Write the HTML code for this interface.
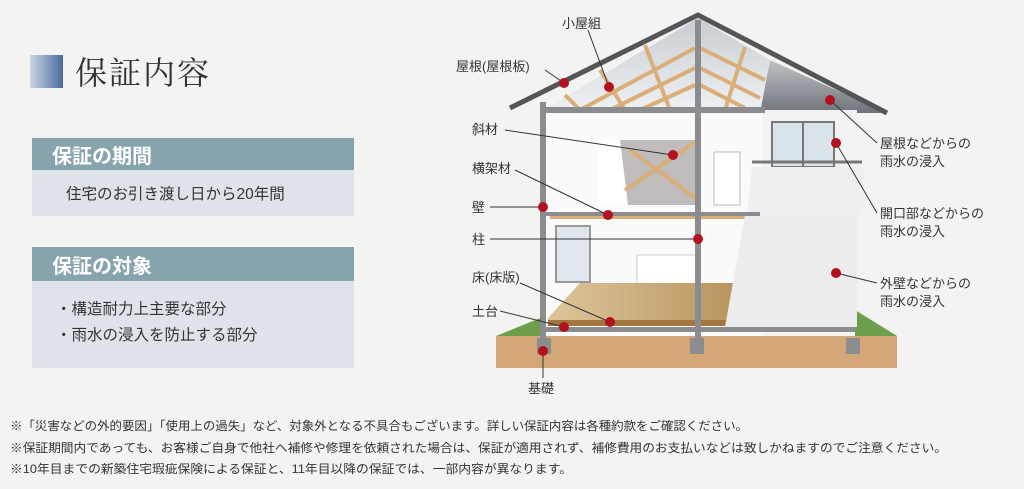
<!DOCTYPE html>
<html><head><meta charset="utf-8"><style>
html,body{margin:0;padding:0;background:#f3f3f2;}
svg{display:block;font-family:"Liberation Sans","Noto Sans CJK JP",sans-serif;}
</style></head><body>
<svg width="1024" height="489" viewBox="0 0 1024 489" xmlns="http://www.w3.org/2000/svg">
<defs>
<linearGradient id="sq" x1="0" x2="1"><stop offset="0" stop-color="#c9d6e6"/><stop offset="1" stop-color="#4d6a9c"/></linearGradient>
<linearGradient id="roofin" x1="0" x2="0" y1="0" y2="1"><stop offset="0" stop-color="#c8ccd2"/><stop offset="1" stop-color="#eef0f2"/></linearGradient>
<linearGradient id="roofr" x1="0" x2="0" y1="0" y2="1"><stop offset="0" stop-color="#bfc3c8"/><stop offset="1" stop-color="#6f747a"/></linearGradient>
<linearGradient id="floor" x1="0" x2="1"><stop offset="0" stop-color="#ddc69c"/><stop offset="1" stop-color="#b8955e"/></linearGradient>
</defs>
<rect width="1024" height="489" fill="#f3f3f2"/>
<!-- title -->
<rect x="30" y="55" width="33" height="33" fill="url(#sq)"/>
<text x="75" y="84" font-size="32" fill="#333" font-family="'Noto Serif CJK SC',serif" letter-spacing="2">保証内容</text>
<!-- box1 -->
<rect x="32" y="138" width="322" height="32" fill="#87a3ae"/>
<text x="52" y="163" font-size="20" font-weight="bold" fill="#fff">保証の期間</text>
<rect x="32" y="170" width="322" height="46" fill="#dde3e8"/>
<text x="66" y="199" font-size="15.5" fill="#333">住宅のお引き渡し日から20年間</text>
<!-- box2 -->
<rect x="32" y="247" width="322" height="34" fill="#87a3ae"/>
<text x="52" y="273" font-size="20" font-weight="bold" fill="#fff">保証の対象</text>
<rect x="32" y="281" width="322" height="87" fill="#dde3e8"/>
<text x="56" y="314" font-size="15.5" fill="#333">・構造耐力上主要な部分</text>
<text x="56" y="340" font-size="15.5" fill="#333">・雨水の浸入を防止する部分</text>

<!-- house -->
<polygon points="496,336 560,310 560,336" fill="#6da04a"/>
<polygon points="897,336 855,310 855,336" fill="#6da04a"/>
<rect x="496" y="336" width="401" height="32" fill="#d2a677"/>
<!-- right exterior upper roof -->
<polygon points="770,60 887,113 760,113" fill="url(#roofr)"/>
<!-- interior roof -->
<polygon points="543,110 698,18 770,60 760,110" fill="url(#roofin)"/>
<!-- rafters -->
<g stroke="#d9ae79" stroke-width="4">
<line x1="565" y1="95" x2="580" y2="110"/><line x1="600" y1="70" x2="625" y2="110"/>
<line x1="645" y1="45" x2="670" y2="110"/><line x1="580" y1="110" x2="695" y2="48"/>
<line x1="610" y1="110" x2="695" y2="68"/><line x1="640" y1="110" x2="695" y2="85"/>
<line x1="745" y1="47" x2="725" y2="110"/><line x1="700" y1="48" x2="765" y2="80"/>
<line x1="700" y1="68" x2="760" y2="98"/><line x1="700" y1="85" x2="745" y2="108"/>
</g>
<!-- walls -->
<rect x="543" y="110" width="220" height="226" fill="#fafafa"/>
<rect x="620" y="140" width="78" height="65" fill="#c0bcbb"/>
<polygon points="597,140 620,140 628,205 597,205" fill="#fff"/>
<g stroke="#d9ae79" stroke-width="4"><line x1="625" y1="190" x2="698" y2="140"/><line x1="630" y1="150" x2="698" y2="200"/></g>
<rect x="714" y="152" width="26" height="53" fill="#fff" stroke="#bbb"/>
<rect x="550" y="213" width="208" height="6" fill="#d9ae79"/>
<rect x="556" y="226" width="34" height="56" fill="#dfe6ee" stroke="#999" stroke-width="2"/>
<rect x="637" y="255" width="60" height="32" fill="#fff" stroke="#ccc"/>
<polygon points="548,318 580,283 735,283 735,325 548,325" fill="url(#floor)"/>
<rect x="548" y="320" width="190" height="6" fill="#a5753f"/>
<!-- exterior right walls -->
<rect x="762" y="110" width="95" height="60" fill="#f2f2f4"/>
<rect x="772" y="122" width="62" height="45" fill="#d8e3ea" stroke="#777" stroke-width="2"/>
<line x1="803" y1="122" x2="803" y2="167" stroke="#777" stroke-width="2"/>
<polygon points="752,167 863,167 863,215 747,215" fill="#eeeff1"/>
<line x1="752" y1="162" x2="862" y2="162" stroke="#777" stroke-width="3"/>
<polygon points="745,215 857,215 857,327 725,327" fill="#ececee"/>
<!-- frame -->
<g fill="#8a8c90">
<rect x="540" y="102" width="6" height="248"/><rect x="695" y="20" width="6" height="330"/>
<rect x="540" y="107" width="225" height="6"/><rect x="540" y="212" width="220" height="4"/>
<rect x="540" y="327" width="315" height="5"/>
<rect x="537" y="338" width="14" height="16"/><rect x="690" y="338" width="14" height="16"/><rect x="846" y="338" width="14" height="16"/>
</g>
<polyline points="510,108 698,15 887,113" fill="none" stroke="#555" stroke-width="5"/>

<!-- leader lines -->
<g stroke="#333" stroke-width="1" fill="none">
<line x1="545" y1="70" x2="564" y2="83"/><line x1="588" y1="30" x2="609" y2="87"/>
<line x1="505" y1="130" x2="673" y2="155"/><line x1="515" y1="170" x2="608" y2="215"/>
<line x1="490" y1="207" x2="543" y2="207"/><line x1="490" y1="239" x2="698" y2="239"/>
<line x1="520" y1="283" x2="610" y2="322"/><line x1="500" y1="311" x2="564" y2="327"/>
<line x1="543" y1="351" x2="543" y2="378"/>
<line x1="830" y1="100" x2="877" y2="143"/><line x1="836" y1="143" x2="877" y2="213"/>
<line x1="836" y1="273" x2="877" y2="283"/>
</g>
<g fill="#b3111d">
<circle cx="564" cy="83" r="5"/><circle cx="609" cy="87" r="5"/><circle cx="673" cy="155" r="5"/>
<circle cx="608" cy="215" r="5"/><circle cx="543" cy="207" r="5"/><circle cx="698" cy="239" r="5"/>
<circle cx="610" cy="322" r="5"/><circle cx="564" cy="327" r="5"/><circle cx="543" cy="351" r="5"/>
<circle cx="830" cy="100" r="5"/><circle cx="836" cy="143" r="5"/><circle cx="836" cy="273" r="5"/>
</g>
<g font-size="13" fill="#333">
<text x="562" y="28">小屋組</text>
<text x="456" y="71">屋根(屋根板)</text>
<text x="472" y="134">斜材</text>
<text x="472" y="173">横架材</text>
<text x="472" y="212">壁</text>
<text x="472" y="244">柱</text>
<text x="472" y="282">床(床版)</text>
<text x="472" y="316">土台</text>
<text x="528" y="393">基礎</text>
<text x="880" y="148">屋根などからの</text><text x="880" y="166">雨水の浸入</text>
<text x="880" y="218">開口部などからの</text><text x="880" y="236">雨水の浸入</text>
<text x="880" y="288">外壁などからの</text><text x="880" y="306">雨水の浸入</text>
</g>
<g font-size="12" fill="#333">
<text x="10" y="430" textLength="738" lengthAdjust="spacingAndGlyphs">※「災害などの外的要因」「使用上の過失」など、対象外となる不具合もございます。詳しい保証内容は各種約款をご確認ください。</text>
<text x="10" y="452" textLength="937" lengthAdjust="spacingAndGlyphs">※保証期間内であっても、お客様ご自身で他社へ補修や修理を依頼された場合は、保証が適用されず、補修費用のお支払いなどは致しかねますのでご注意ください。</text>
<text x="10" y="473" textLength="562" lengthAdjust="spacingAndGlyphs">※10年目までの新築住宅瑕疵保険による保証と、11年目以降の保証では、一部内容が異なります。</text>
</g>
</svg>
</body></html>
